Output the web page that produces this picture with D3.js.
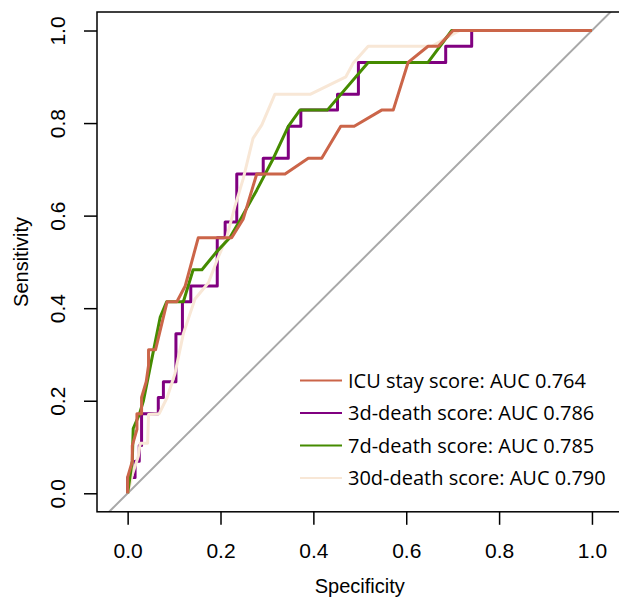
<!DOCTYPE html>
<html>
<head>
<meta charset="utf-8">
<script src="https://cdn.jsdelivr.net/npm/d3@7"></script>
<style>
  body { margin: 0; background: #fff; }
  svg { display: block; }
  .tick text { font-family: "Liberation Sans", Arial, sans-serif; font-size: 21px; fill: #000; }
  .tick line { stroke: #000; stroke-width: 1.5; }
  .axis-title { font-family: "Liberation Sans", Arial, sans-serif; font-size: 20px; }
  .legend text { font-family: "Open Sans", sans-serif; font-size: 20px; }
</style>
</head>
<body>
<div id="chart"></div>
<script>
// ROC curves, points are [1 - specificity, sensitivity]
const seriesNames = ['ICU stay score', '3d-death score', '7d-death score', '30d-death score'];
const aucValues = [0.764, 0.786, 0.785, 0.790];
const tickValues = [0, 0.2, 0.4, 0.6, 0.8, 1.0];

const icuStay = [
  [0, 0], [0, 0.035], [0.01, 0.069], [0.01, 0.103], [0.02, 0.138], [0.02, 0.172],
  [0.03, 0.172], [0.03, 0.207], [0.04, 0.241], [0.045, 0.276], [0.045, 0.310],
  [0.06, 0.310], [0.085, 0.414], [0.106, 0.414], [0.124, 0.448], [0.152, 0.552],
  [0.224, 0.552], [0.249, 0.593], [0.278, 0.690], [0.339, 0.690], [0.389, 0.724],
  [0.418, 0.724], [0.459, 0.793], [0.488, 0.793], [0.547, 0.828], [0.572, 0.828],
  [0.604, 0.931], [0.647, 0.966], [0.669, 0.966], [0.701, 1.0], [1.0, 1.0]
];

const death3d = [
  [0, 0], [0, 0.034], [0.016, 0.034], [0.016, 0.069], [0.025, 0.069], [0.025, 0.103],
  [0.03, 0.103], [0.03, 0.172], [0.066, 0.172], [0.066, 0.207], [0.077, 0.207],
  [0.077, 0.241], [0.104, 0.241], [0.104, 0.345], [0.118, 0.345], [0.118, 0.414],
  [0.136, 0.414], [0.136, 0.448], [0.193, 0.448], [0.193, 0.552], [0.21, 0.552],
  [0.21, 0.586], [0.235, 0.586], [0.235, 0.690], [0.292, 0.690], [0.292, 0.724],
  [0.346, 0.724], [0.346, 0.793], [0.373, 0.793], [0.373, 0.828], [0.452, 0.828],
  [0.452, 0.862], [0.497, 0.862], [0.497, 0.931], [0.685, 0.931], [0.685, 0.966],
  [0.741, 0.966], [0.741, 1.0], [1.0, 1.0]
];

const death7d = [
  [0, 0], [0.005, 0.035], [0.01, 0.07], [0.012, 0.14], [0.025, 0.17], [0.034, 0.2],
  [0.048, 0.27], [0.07, 0.38], [0.084, 0.414], [0.12, 0.414], [0.141, 0.483],
  [0.16, 0.483], [0.19, 0.52], [0.22, 0.552], [0.242, 0.59], [0.278, 0.655],
  [0.314, 0.724], [0.346, 0.793], [0.371, 0.828], [0.43, 0.828], [0.518, 0.931],
  [0.647, 0.931], [0.698, 1.0], [1.0, 1.0]
];

const death30d = [
  [0, 0], [0.01, 0.04], [0.023, 0.08], [0.027, 0.108], [0.043, 0.108], [0.045, 0.17],
  [0.068, 0.172], [0.085, 0.207], [0.102, 0.259], [0.12, 0.345], [0.145, 0.42],
  [0.174, 0.455], [0.195, 0.51], [0.213, 0.552], [0.231, 0.62], [0.249, 0.68],
  [0.27, 0.767], [0.289, 0.796], [0.317, 0.862], [0.393, 0.862], [0.47, 0.9],
  [0.486, 0.93], [0.518, 0.966], [0.655, 0.966], [0.715, 1.0], [1.0, 1.0]
];

const curves = [icuStay, death3d, death7d, death30d];
const colors = ['#CB6549', '#800080', '#458B00', '#F8E7D6'];
// draw order: 3d, 30d, 7d, ICU on top
const drawOrder = [1, 3, 2, 0];

const width = 619, height = 602;
const plotLeft = 97, plotRight = 622.6, plotTop = 12, plotBottom = 511.8;

const svg = d3.select('#chart').append('svg')
  .attr('width', width)
  .attr('height', height);

const x = d3.scaleLinear().domain([-0.066, 1.066]).range([plotLeft, plotRight]);
const y = d3.scaleLinear().domain([-0.04, 1.04]).range([plotBottom, plotTop]);

svg.append('clipPath').attr('id', 'plot-clip')
  .append('rect')
  .attr('x', plotLeft).attr('y', plotTop)
  .attr('width', plotRight - plotLeft).attr('height', plotBottom - plotTop);

const plot = svg.append('g').attr('clip-path', 'url(#plot-clip)');

// chance diagonal
plot.append('line')
  .attr('x1', x(-0.2)).attr('y1', y(-0.2))
  .attr('x2', x(1.2)).attr('y2', y(1.2))
  .attr('stroke', '#A8A8A8')
  .attr('stroke-width', 2);

const line = d3.line().x(d => x(d[0])).y(d => y(d[1]));

drawOrder.forEach(i => {
  plot.append('path')
    .datum(curves[i])
    .attr('d', line)
    .attr('fill', 'none')
    .attr('stroke', colors[i])
    .attr('stroke-width', 3)
    .attr('stroke-linejoin', 'round');
});

// box
svg.append('rect')
  .attr('x', plotLeft).attr('y', plotTop)
  .attr('width', plotRight - plotLeft).attr('height', plotBottom - plotTop)
  .attr('fill', 'none')
  .attr('stroke', '#000')
  .attr('stroke-width', 1.5);

// axes
const xAxis = svg.append('g')
  .attr('transform', `translate(0,${plotBottom})`)
  .call(d3.axisBottom(x).tickValues(tickValues).tickFormat(d3.format('.1f')).tickSize(13).tickPadding(18));
xAxis.select('.domain').remove();

const yAxis = svg.append('g')
  .attr('transform', `translate(${plotLeft},0)`)
  .call(d3.axisLeft(y).tickValues(tickValues).tickFormat(d3.format('.1f')).tickSize(13));
yAxis.select('.domain').remove();
yAxis.selectAll('.tick text')
  .attr('x', null)
  .attr('dy', '0.35em')
  .attr('text-anchor', 'middle')
  .attr('transform', 'translate(-39,0) rotate(-90)');

svg.append('text')
  .attr('class', 'axis-title')
  .attr('x', (plotLeft + plotRight) / 2)
  .attr('y', 593)
  .attr('text-anchor', 'middle')
  .text('Specificity');

svg.append('text')
  .attr('class', 'axis-title')
  .attr('transform', `translate(28,${(plotTop + plotBottom) / 2}) rotate(-90)`)
  .attr('text-anchor', 'middle')
  .text('Sensitivity');

// legend
const legend = svg.append('g').attr('class', 'legend');
const legendRows = legend.selectAll('g')
  .data(seriesNames)
  .join('g')
  .attr('transform', (d, i) => `translate(300,${380.5 + i * 32.5})`);

legendRows.append('line')
  .attr('x1', 0).attr('x2', 42)
  .attr('stroke', (d, i) => colors[i])
  .attr('stroke-width', 2);

legendRows.append('text')
  .attr('x', 48)
  .attr('dy', '0.35em')
  .text((d, i) => `${d}: AUC ${aucValues[i].toFixed(3)}`);
</script>
</body>
</html>
